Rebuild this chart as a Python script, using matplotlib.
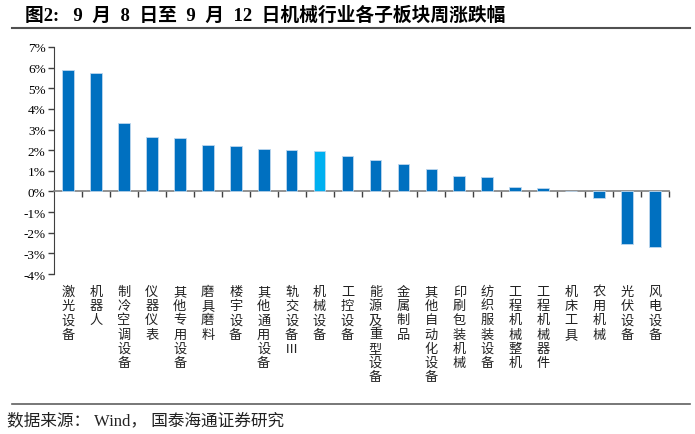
import matplotlib
matplotlib.use("Agg")
import matplotlib.pyplot as plt
import matplotlib.transforms as mtransforms

plt.rcParams['font.family'] = ['Liberation Serif', 'Noto Sans CJK SC', 'DejaVu Sans']

categories = ["激光设备", "机器人", "制冷空调设备", "仪器仪表", "其他专用设备", "磨具磨料",
              "楼宇设备", "其他通用设备", "轨交设备Ⅲ", "机械设备", "工控设备", "能源及重型设备",
              "金属制品", "其他自动化设备", "印刷包装机械", "纺织服装设备", "工程机械整机",
              "工程机械器件", "机床工具", "农用机械", "光伏设备", "风电设备"]
values = [5.87, 5.74, 3.30, 2.65, 2.58, 2.24, 2.18, 2.08, 2.00, 1.94, 1.72, 1.54,
          1.33, 1.07, 0.75, 0.69, 0.20, 0.19, 0.03, -0.33, -2.57, -2.70]
highlight = "机械设备"
yticks = list(range(-4, 8))
ytick_labels = [f"{v}%" for v in yticks]

W, H = 695, 435
fig = plt.figure(figsize=(W / 100, H / 100), dpi=100)
ax = fig.add_axes([54 / W, 1 - 275 / H, (669 - 54) / W, (275 - 48) / H])

x = list(range(len(categories)))
colors = ["#00B0F0" if c == highlight else "#0070C0" for c in categories]
ax.bar(x, values, width=0.42, color=colors, edgecolor="#BDD7EE", linewidth=0.6, zorder=3)

ax.set_xlim(-0.5, len(categories) - 0.5)
ax.set_ylim(-4, 7)
ax.set_yticks(yticks)
ax.set_yticklabels(ytick_labels, fontsize=9.5, family=['Liberation Serif'])
ax.tick_params(axis='y', direction='out', length=4, width=1, color="#404040", pad=2)

ax.spines['top'].set_visible(False)
ax.spines['right'].set_visible(False)
ax.spines['left'].set_color("#404040")
ax.spines['bottom'].set_position(('data', 0))
ax.spines['bottom'].set_color("#808080")
ax.spines['bottom'].set_linewidth(1.2)
ax.set_xticks([i + 0.5 for i in x])
ax.set_xticklabels([])
ax.tick_params(axis='x', direction='out', length=4, width=1, color="#404040")

trans = mtransforms.blended_transform_factory(ax.transData, fig.transFigure)
for i, c in enumerate(categories):
    ax.text(i, 1 - 286 / H, "\n".join(list(c)), transform=trans, ha='center', va='top',
            fontsize=9.5, linespacing=1.12, family=['Noto Sans CJK SC', 'DejaVu Sans'],
            color="#222222")

fig.text(25 / W, 1 - 16 / H, "图2:   9  月  8  日至  9  月  12  日机械行业各子板块周涨跌幅",
         fontsize=13.5, fontweight='bold', va='center', ha='left',
         family=['Liberation Serif', 'Noto Sans CJK SC'])
fig.add_artist(plt.Line2D([12 / W, 690 / W], [1 - 29 / H, 1 - 29 / H], transform=fig.transFigure,
                          color="#505050", linewidth=1.5))
fig.add_artist(plt.Line2D([12 / W, 690 / W], [1 - 405 / H, 1 - 405 / H], transform=fig.transFigure,
                          color="#606060", linewidth=1.2))
fig.text(7 / W, 1 - 421 / H, "数据来源： Wind， 国泰海通证券研究", fontsize=12, va='center',
         ha='left', family=['Liberation Serif', 'Noto Sans CJK SC'], color="#222222")

fig.savefig("out.png", dpi=100)
